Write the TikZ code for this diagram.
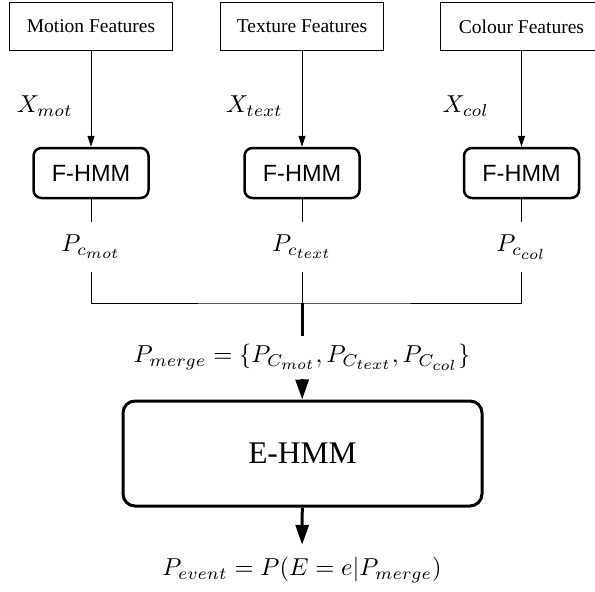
\documentclass[tikz,border=0pt]{standalone}
\usepackage{fontspec}
\setmainfont{Liberation Serif}
\setsansfont{Liberation Sans}
\usetikzlibrary{arrows.meta,positioning}
\DeclareMathSizes{10}{10}{7}{6}
\newcommand{\mathlabel}[1]{\scalebox{2.45}{$#1$}}
\tikzset{
  featbox/.style={
    rectangle, draw, line width=0.8pt,
    minimum width=163pt, minimum height=48.5pt,
    font=\fontsize{19.5}{23}\selectfont, inner sep=0pt
  },
  fhmmbox/.style={
    rectangle, draw, line width=2.5pt, rounded corners=8pt,
    minimum width=115pt, minimum height=50pt,
    font=\sffamily\fontsize{23.5}{28}\selectfont, inner sep=0pt
  },
  ehmmbox/.style={
    rectangle, draw, line width=3pt, rounded corners=12pt,
    minimum width=359pt, minimum height=105pt,
    font=\fontsize{31.5}{36}\selectfont, inner sep=0pt
  },
  mathlbl/.style={
    inner sep=0pt, minimum height=#1
  },
  mathlbl/.default=20pt,
  thinarrow/.style={
    -{Triangle[length=11pt, width=7pt]}, line width=0.8pt
  },
  thickarrow/.style={
    -{Triangle[length=20pt, width=13pt]}, line width=3pt
  },
}
\begin{document}
\begin{tikzpicture}[x=1pt, y=-1pt]
  \clip (0,0) rectangle (595,592);

  % Feature sources
  \node[featbox] (fmot) at (91,26.5) {Motion Features};
  \node[featbox] (ftext) at (302,26.5) {Texture Features};
  \node[featbox] (fcol) at (521.5,26.5) {Colour Features};

  % Feature HMMs
  \node[fhmmbox] (hmot) at (91,173) {F-HMM};
  \node[fhmmbox] (htext) at (302,173) {F-HMM};
  \node[fhmmbox] (hcol) at (521.5,173) {F-HMM};

  \draw[thinarrow] (fmot) -- (hmot);
  \draw[thinarrow] (ftext) -- (htext);
  \draw[thinarrow] (fcol) -- (hcol);

  \node[mathlbl, anchor=east] (xmot) at (73,106) {\mathlabel{X_{mot}}};
  \node[mathlbl, anchor=east] (xtext) at (283,106) {\mathlabel{X_{text}}};
  \node[mathlbl, anchor=east] (xcol) at (489,106) {\mathlabel{X_{col}}};

  % Class probabilities
  \node[mathlbl=50pt] (pmot) at (91,247) {\mathlabel{P_{c_{mot}}}};
  \node[mathlbl=50pt] (ptext) at (302,247) {\mathlabel{P_{c_{text}}}};
  \node[mathlbl=50pt] (pcol) at (521.5,247) {\mathlabel{P_{c_{col}}}};

  \draw[line width=0.8pt] (hmot) -- (pmot);
  \draw[line width=0.8pt] (htext) -- (ptext);
  \draw[line width=0.8pt] (hcol) -- (pcol);

  % Merge
  \coordinate (join) at (302,303);
  \draw[line width=0.8pt] (pmot) |- (join) -| (pcol);
  \draw[line width=0.8pt] (ptext) -- (join);

  \node[mathlbl=43pt] (pmerge) at (302,357.5)
    {\mathlabel{P_{merge} = \{P_{C_{mot}}, P_{C_{text}}, P_{C_{col}}\}}};
  \node[ehmmbox] (ehmm) at (302.5,453.5) {E-HMM};
  \node[mathlbl=50pt] (pevent) at (302,570)
    {\mathlabel{P_{event} = P(E=e|P_{merge})}};

  \draw[line width=3pt] (join) -- (pmerge);
  \draw[thickarrow] (pmerge) -- (ehmm);
  \draw[thickarrow] (ehmm) -- (pevent);
\end{tikzpicture}
\end{document}
